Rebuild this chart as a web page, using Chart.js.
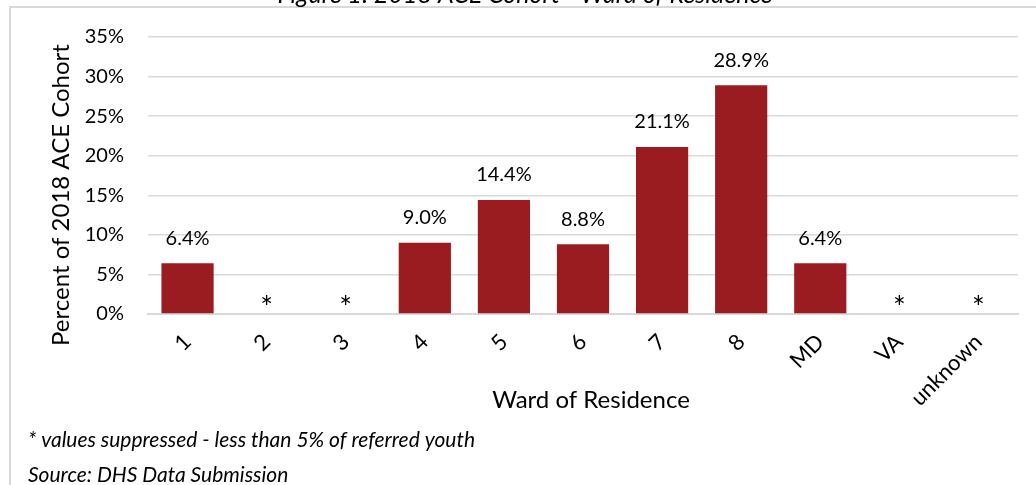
<!DOCTYPE html>
<html>
<head>
<meta charset="utf-8">
<script src="https://cdn.jsdelivr.net/npm/chart.js@4.4.0/dist/chart.umd.min.js"></script>
<style>
  html, body { margin: 0; padding: 0; background: #fff; }
  #wrap { position: relative; width: 1036px; height: 485px; overflow: hidden; }
  #frameL { position: absolute; left: 9px; top: 7px; width: 2px; height: 478px; background: #d9d9d9; }
  #frameT { position: absolute; left: 9px; top: 6px; width: 1027px; height: 2px; background: #d9d9d9; }
  canvas { position: absolute; left: 0; top: 0; }
</style>
</head>
<body>
<div id="wrap">
  <div id="frameL"></div>
  <div id="frameT"></div>
  <canvas id="c" width="1036" height="485"></canvas>
</div>
<script>
const chartTitle = 'Figure 1: 2018 ACE Cohort - Ward of Residence';
const categories = ['1', '2', '3', '4', '5', '6', '7', '8', 'MD', 'VA', 'unknown'];
const values = [6.4, null, null, 9.0, 14.4, 8.8, 21.1, 28.9, 6.4, null, null];
const suppressedMark = '*';
const yTickMin = 0, yTickMax = 35, yTickStep = 5;
const footnotes = ['* values suppressed - less than 5% of referred youth', 'Source: DHS Data Submission'];
const yTitle = 'Percent of 2018 ACE Cohort';
const xTitle = 'Ward of Residence';

const FONT = 'Lato, "Noto Sans", sans-serif';

const labelPlugin = {
  id: 'labels',
  afterDatasetsDraw(chart) {
    const ctx = chart.ctx;
    const meta = chart.getDatasetMeta(0);
    const yScale = chart.scales.y;
    const xScale = chart.scales.x;
    ctx.save();
    ctx.fillStyle = '#000';
    ctx.textAlign = 'center';
    values.forEach((v, i) => {
      const x = xScale.getPixelForValue(i);
      if (v === null) {
        ctx.font = '30px ' + FONT;
        ctx.textBaseline = 'alphabetic';
        ctx.fillText(suppressedMark, x, yScale.getPixelForValue(0) + 4);
      } else {
        const bar = meta.data[i];
        ctx.font = '20px ' + FONT;
        ctx.textBaseline = 'middle';
        ctx.fillText(v.toFixed(1) + '%', x, bar.y - 25);
      }
    });
    // axis titles
    ctx.font = '24px ' + FONT;
    ctx.textBaseline = 'middle';
    ctx.textAlign = 'center';
    ctx.fillText(xTitle, 591, 400);
    ctx.save();
    ctx.translate(61, 195);
    ctx.rotate(-Math.PI / 2);
    ctx.fillText(yTitle, 0, 0);
    ctx.restore();
    // title (clipped at top) and footnotes
    ctx.textAlign = 'center';
    ctx.textBaseline = 'alphabetic';
    ctx.font = 'italic 25px ' + FONT;
    ctx.fillText(chartTitle, 525, 3);
    ctx.textAlign = 'left';
    ctx.font = 'italic 21px ' + FONT;
    ctx.fillText(footnotes[0], 28, 447);
    ctx.fillText(footnotes[1], 28, 482);
    ctx.restore();
  }
};

new Chart(document.getElementById('c'), {
  type: 'bar',
  data: {
    labels: categories,
    datasets: [{
      data: values,
      backgroundColor: '#9B1C20',
      borderWidth: 0,
      categoryPercentage: 1.0,
      barPercentage: 0.66
    }]
  },
  options: {
    responsive: false,
    animation: false,
    events: [],
    layout: { padding: { left: 0, top: 37, right: 18, bottom: 0 } },
    plugins: { legend: { display: false }, tooltip: { enabled: false }, title: { display: false } },
    scales: {
      x: {
        grid: { display: false, drawTicks: false },
        border: { display: true, color: '#d9d9d9', width: 2 },
        ticks: {
          color: '#000',
          font: { family: FONT, size: 22 },
          minRotation: 45, maxRotation: 45,
          padding: 15,
          autoSkip: false
        },
        title: { display: false },
        afterFit(scale) { scale.height = 171; }
      },
      y: {
        min: yTickMin, max: yTickMax,
        grid: { color: '#d9d9d9', lineWidth: 1.5, drawTicks: false },
        border: { display: false },
        ticks: {
          stepSize: yTickStep,
          color: '#000',
          font: { family: FONT, size: 20 },
          padding: 24,
          callback: v => v + '%'
        },
        title: { display: false },
        afterFit(scale) { scale.width = 148; }
      }
    }
  },
  plugins: [labelPlugin]
});
</script>
</body>
</html>
